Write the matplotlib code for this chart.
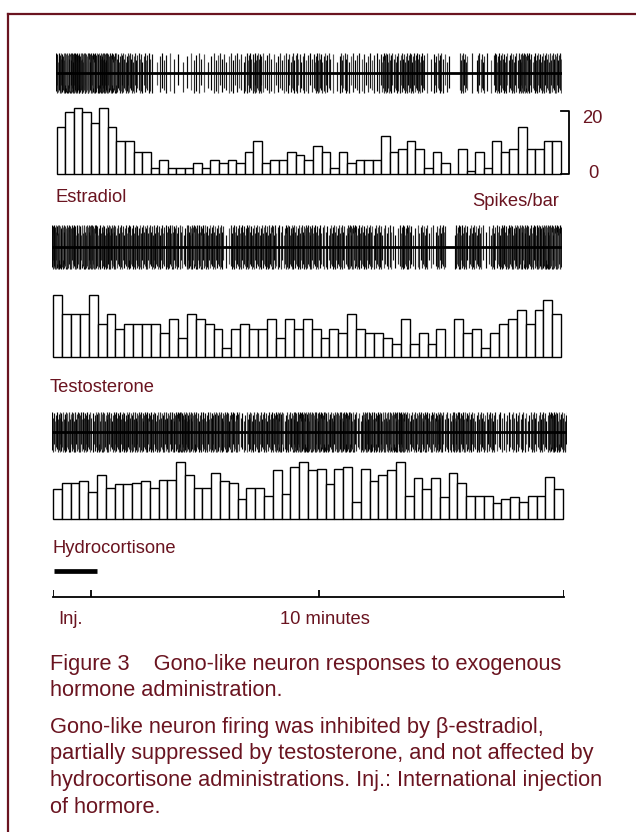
import numpy as np
import matplotlib.pyplot as plt
from matplotlib.lines import Line2D

plt.rcParams['font.family'] = ['Liberation Sans', 'DejaVu Sans']

W, H, DPI = 636, 832, 100
MAROON = '#6a1420'

# Spikes per bar
estradiol = [15, 19.5, 21, 19.5, 16, 21, 15, 10.5, 10.5, 7,
             7, 2, 4.5, 2, 2, 2, 3.5, 2, 4.5, 3.5,
             4.5, 3.5, 7, 10.5, 3.5, 4.5, 4.5, 7, 6, 4.5,
             9, 7, 2, 7, 3.5, 4.5, 4.5, 4.5, 12, 7,
             8, 10.5, 8, 2, 7, 3.5, 0, 8, 1, 7,
             2, 10.5, 7, 8, 15, 8, 8, 10.5, 10.5]
testosterone = [19.5, 13.5, 13.5, 13.5, 19.5, 10.5, 13.5, 9, 10.5, 10.5,
                10.5, 10.5, 7.5, 12, 6, 13.5, 12, 10.5, 9, 3,
                9, 10.5, 9, 9, 12, 6, 12, 9, 12, 9,
                6, 9, 7.5, 13.5, 9, 7.5, 7.5, 6, 4, 12,
                4, 7.5, 4, 9, 0, 12, 7.5, 9, 3, 7.5,
                10.5, 12, 15, 10.5, 15, 18, 13.5]
hydrocortisone = [9.5, 11.5, 11.5, 12, 8.5, 14, 10, 11, 11, 11.5,
                  12, 10, 12.5, 12.5, 18, 14, 10, 10, 14.5, 12,
                  11.5, 6.5, 10, 10, 7.5, 15.5, 8, 16.5, 18, 15.5,
                  16, 11, 16, 16.5, 5.5, 16, 12, 14, 15.5, 18,
                  7.5, 13, 9.5, 13, 7, 14.5, 11.5, 7.5, 7.5, 7.5,
                  5, 6.5, 7, 5.5, 7.5, 7.5, 13.5, 9.5]

hormones = ['Estradiol', 'Testosterone', 'Hydrocortisone']
counts = [estradiol, testosterone, hydrocortisone]

# time scale under the traces, in bar units
scale_ticks = [0, 4.5, 31, 59.5]
inj_bar = [0.1, 5.1]
scale_max = 20

# layout in pixels
hist_box = [(56.7, 560.7, 174), (53, 561.3, 357), (53, 563, 519.3)]
trace_box = [(56, 562, 73, 20), (52, 562, 247, 22), (52, 567, 432, 20)]
label_pos = [(56, 201.7), (50, 392), (52.7, 553.3)]
px_per_spike = 63.3 / 20

# spike shape cycles (up / down amplitude, shade)
up_cycle = [1.0, 0.7, 0.95, 0.55, 0.85, 1.0, 0.65, 0.9]
down_cycle = [0.9, 1.0, 0.6, 0.95, 0.75, 0.85, 1.0]
shade_cycle = ['#000000', '#333333', '#111111', '#555555', '#222222']


def px_axes(x0, y_top, x1, y_bottom):
    return fig.add_axes([x0 / W, 1 - y_bottom / H, (x1 - x0) / W,
                         (y_bottom - y_top) / H])


def fig_text(x, y, s, **kw):
    fig.text(x / W, 1 - y / H, s, color=MAROON, va='baseline', **kw)


def spike_times(c):
    # spread each bar's spikes evenly across its 10 s bin
    times = []
    for i, v in enumerate(c):
        n = int(round(v))
        for k in range(n):
            times.append(i - 0.5 + (k + 0.5) / n)
    return np.array(times)


fig = plt.figure(figsize=(W / DPI, H / DPI), dpi=DPI)

for name, c, hb, tb, lp in zip(hormones, counts, hist_box, trace_box, label_pos):
    n = len(c)

    # raw trace
    x0, x1, base, amp = tb
    ax = px_axes(x0, base - amp - 3, x1, base + amp + 3)
    t = spike_times(c)
    k = np.arange(len(t))
    up = np.take(up_cycle, k, mode='wrap')
    down = np.take(down_cycle, k, mode='wrap')
    shades = [shade_cycle[i % len(shade_cycle)] for i in k]
    ax.vlines(t, -down, up, colors=shades, linewidth=0.85)
    ax.axhline(0, color='black', linewidth=2)
    ax.set_xlim(-0.5, n - 0.5)
    ax.set_ylim(-(amp + 3) / amp, (amp + 3) / amp)
    ax.axis('off')

    # histogram
    x0, x1, base = hb
    ax = px_axes(x0, base - 75, x1, base)
    bars = ax.bar(np.arange(n), c, width=1, facecolor='white',
                  edgecolor='black', linewidth=1.0)
    for b in bars:
        b.set_clip_on(False)
    ax.set_xlim(-0.5, n - 0.5)
    ax.set_ylim(0, 75 / px_per_spike)
    ax.axis('off')

    if name == 'Estradiol':
        bar_px = (x1 - x0) / n
        xb = n - 0.5 + (569.2 - x1) / bar_px
        ax.plot([n - 0.5, xb, xb, n - 0.5], [0, 0, scale_max, scale_max],
                color='black', linewidth=1.3, clip_on=False)
        fig_text(582.3, 123.3, '20', fontsize=13.2)
        fig_text(588, 177.5, '0', fontsize=13.2)
        fig_text(559.3, 205.7, 'Spikes/bar', fontsize=13.2, ha='right')

    fig_text(lp[0], lp[1], name, fontsize=13.2)

# time scale and injection bar
ax = px_axes(52.7, 560, 564.3, 600)
ax.set_xlim(0, scale_ticks[-1])
ax.set_ylim(0, 40)
ax.plot([scale_ticks[0], scale_ticks[-1]], [2.7, 2.7], color='black',
        linewidth=1.3, clip_on=False)
ax.vlines(scale_ticks, 2.7, 10, color='black', linewidth=1.3)
ax.plot(inj_bar, [29, 29], color='black', linewidth=3.4,
        solid_capstyle='butt')
ax.axis('off')

fig_text(58.3, 624.3, 'Inj.', fontsize=13.2)
fig_text(325, 624.3, '10 minutes', fontsize=13.2, ha='center')

# caption
caption = [
    (670, 'Figure 3    Gono-like neuron responses to exogenous'),
    (696, 'hormone administration.'),
    (733, 'Gono-like neuron firing was inhibited by \u03b2-estradiol,'),
    (759, 'partially suppressed by testosterone, and not affected by'),
    (786, 'hydrocortisone administrations. Inj.: International injection'),
    (813, 'of hormore.'),
]
for y, line in caption:
    fig_text(50, y, line, fontsize=15.7)

# frame (left and top edges only are in view)
fig.add_artist(Line2D([7.5 / W, 7.5 / W], [0, 1 - 14 / H], color=MAROON,
                      linewidth=1.6))
fig.add_artist(Line2D([7.5 / W, 1], [1 - 14 / H, 1 - 14 / H], color=MAROON,
                      linewidth=1.6))

fig.savefig('out.png', dpi=DPI)
